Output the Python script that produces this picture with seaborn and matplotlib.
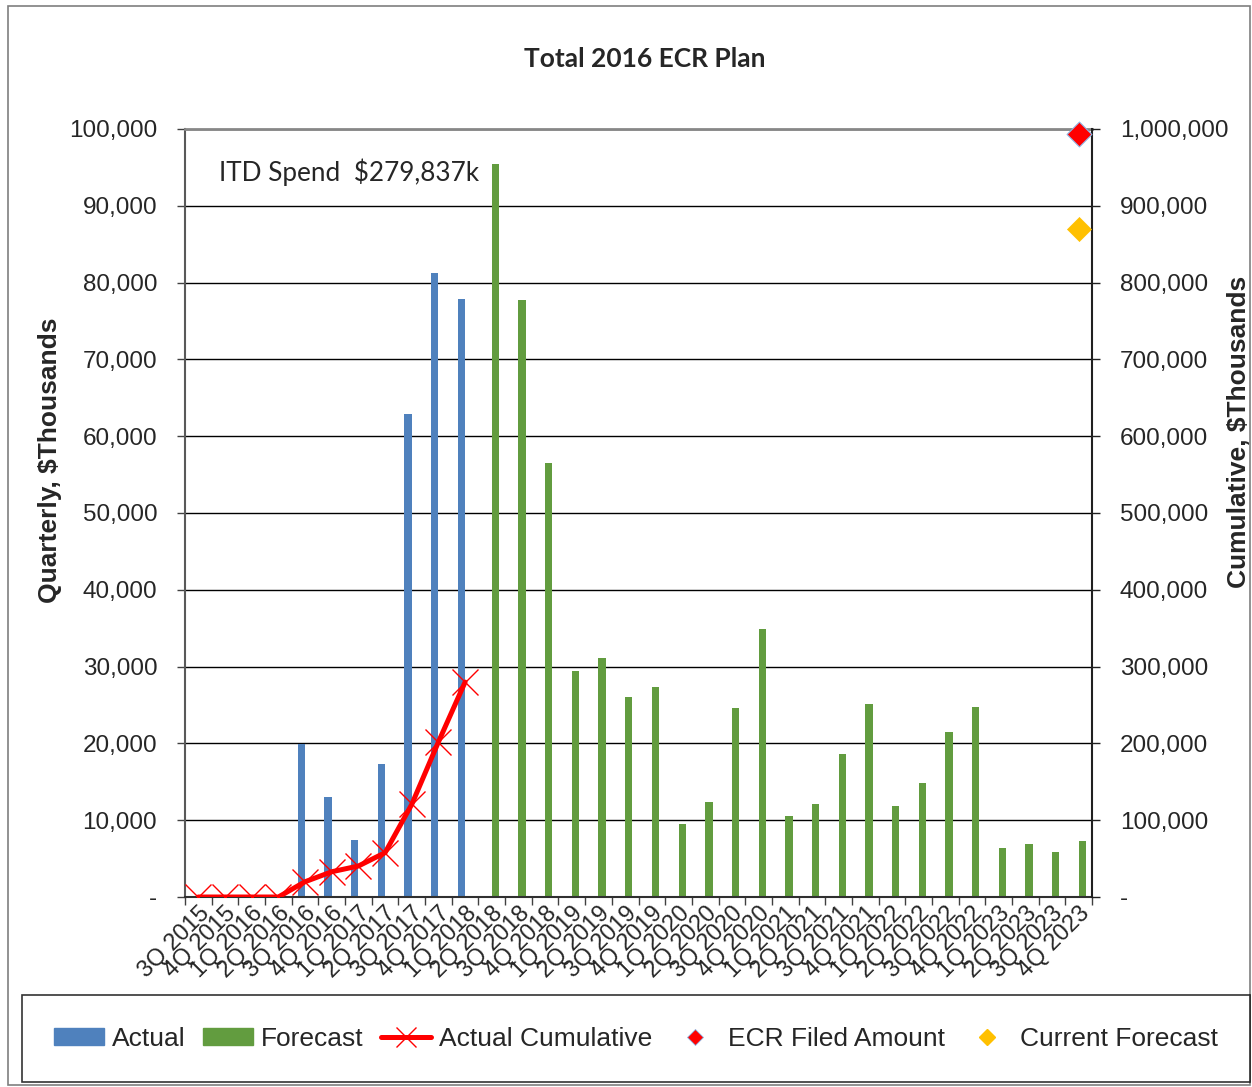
import numpy as np
import pandas as pd
import matplotlib
matplotlib.use("Agg")
import matplotlib.pyplot as plt
import seaborn as sns
from matplotlib.ticker import FuncFormatter, FixedLocator, MultipleLocator
from matplotlib.patches import Patch, Rectangle
from matplotlib.lines import Line2D

# ---------------- data ----------------
quarters = ["3Q 2015", "4Q 2015",
            "1Q 2016", "2Q 2016", "3Q 2016", "4Q 2016",
            "1Q 2017", "2Q 2017", "3Q 2017", "4Q 2017",
            "1Q 2018", "2Q 2018", "3Q 2018", "4Q 2018",
            "1Q 2019", "2Q 2019", "3Q 2019", "4Q 2019",
            "1Q 2020", "2Q 2020", "3Q 2020", "4Q 2020",
            "1Q 2021", "2Q 2021", "3Q 2021", "4Q 2021",
            "1Q 2022", "2Q 2022", "3Q 2022", "4Q 2022",
            "1Q 2023", "2Q 2023", "3Q 2023", "4Q 2023"]

nan = np.nan
actual = [0, 0, 0, 0, 19870, 13000, 7480, 17350, 62900, 81300, 77900] + [nan] * 23
forecast = [nan] * 11 + [95500, 77700, 56450,
                         29400, 31100, 26100, 27400,
                         9500, 12400, 24600, 34900,
                         10500, 12100, 18650, 25100,
                         11800, 14800, 21500, 24700,
                         6400, 6900, 5800, 7300]
actual_cumulative = [0, 0, 0, 0, 19870, 32870, 40350, 57700, 120600, 201900, 279837]
ecr_filed_amount = 993000
current_forecast = 870400
itd_text = "ITD Spend  $279,837k"

# ---------------- style ----------------
sns.set_theme(style="white")
plt.rcParams["font.family"] = ["Liberation Sans", "DejaVu Sans"]

blue = "#4F81BD"
green = "#629C3F"
red = "#FF0000"
gold = "#FFC000"

W, H = 1252, 1087
fig = plt.figure(figsize=(W / 100, H / 100), dpi=100)
L, R, T, B = 185, 1092, 129, 897
ax = fig.add_axes([L / W, 1 - B / H, (R - L) / W, (B - T) / H])

df = pd.DataFrame({
    "quarter": quarters * 2,
    "series": ["Actual"] * len(quarters) + ["Forecast"] * len(quarters),
    "value": actual + forecast,
})

sns.barplot(data=df, x="quarter", y="value", hue="series", order=quarters,
            hue_order=["Actual", "Forecast"], palette=[blue, green],
            width=0.55, dodge=True, saturation=1, errorbar=None,
            linewidth=0, legend=False, ax=ax)

ax.set_ylim(0, 100000)
ax.set_xlim(-0.5, len(quarters) - 0.5)
ax.yaxis.set_major_locator(MultipleLocator(10000))
fmt = FuncFormatter(lambda v, _: "-" if v == 0 else f"{v:,.0f}")
ax.yaxis.set_major_formatter(fmt)
ax.yaxis.grid(True, color="black", lw=1)
ax.set_axisbelow(True)
ax.set_xlabel("")
ax.set_ylabel("Quarterly, $Thousands", fontsize=19, fontweight="bold")
ax.yaxis.set_label_coords(-0.149, 0.569)
ax.yaxis.label.set_verticalalignment("center")

ax.set_xticks(range(len(quarters)))
ax.set_xticklabels(quarters)
ax.xaxis.set_minor_locator(FixedLocator(np.arange(-0.5, len(quarters), 1)))
ax.tick_params(axis="x", which="major", length=0, pad=4, labelsize=17)
ax.tick_params(axis="x", which="minor", length=6, width=1, color="#404040", bottom=True, direction="out")
for lab in ax.get_xticklabels():
    lab.set_rotation(45)
    lab.set_ha("right")
    lab.set_va("top")
    lab.set_rotation_mode("anchor")
ax.tick_params(axis="y", which="major", length=6, width=1, color="#404040", left=True,
               direction="out", pad=14, labelsize=17.5)

ax.spines["top"].set_color("#878787")
ax.spines["top"].set_linewidth(2)
ax.spines["left"].set_color("#595959")
ax.spines["left"].set_linewidth(1.5)
ax.spines["bottom"].set_color("#303030")
ax.spines["bottom"].set_linewidth(1.5)
ax.spines["right"].set_visible(False)

# secondary axis
ax2 = ax.twinx()
sns.lineplot(x=np.arange(len(actual_cumulative)), y=actual_cumulative, ax=ax2,
             color=red, lw=3.6, marker="x", markersize=19, markeredgewidth=1,
             markeredgecolor=red, zorder=5)
sns.scatterplot(x=[len(quarters) - 1], y=[current_forecast], marker="D", s=150,
                color=gold, edgecolor=gold, linewidth=0.5, ax=ax2, clip_on=False, zorder=6)
sns.scatterplot(x=[len(quarters) - 1], y=[ecr_filed_amount], marker="D", s=160,
                color=red, edgecolor="#8EB4E3", linewidth=0.8, ax=ax2, clip_on=False, zorder=6)
ax2.set_ylim(0, 1000000)
ax2.set_xlim(-0.5, len(quarters) - 0.5)
ax2.yaxis.set_major_locator(MultipleLocator(100000))
ax2.yaxis.set_major_formatter(fmt)
ax2.tick_params(axis="y", which="major", length=6, width=1, color="#202020", right=True,
                direction="out", pad=14, labelsize=17.5)
ax2.set_ylabel("Cumulative, $Thousands", fontsize=19, fontweight="bold")
ax2.yaxis.set_label_coords(1.162, 0.605)
ax2.yaxis.label.set_verticalalignment("center")
for side in ["top", "left", "bottom"]:
    ax2.spines[side].set_visible(False)
ax2.spines["right"].set_color("#202020")
ax2.spines["right"].set_linewidth(1.5)
ax2.set_xlabel("")

ax.text((219 - L) / (R - L), (B - 172) / (B - T), itd_text, transform=ax.transAxes,
        ha="left", va="center", fontsize=18.8, family=["Lato", "DejaVu Sans"])

fig.text(645 / W, 1 - 59 / H, "Total 2016 ECR Plan", ha="center", va="center",
         fontsize=19, fontweight="bold", family=["Lato", "DejaVu Sans"])

# outer frame
fig.patches.append(Rectangle((8 / W, 2 / H), (1250 - 8) / W, (1079) / H, transform=fig.transFigure,
                             fill=False, edgecolor="#7F7F7F", lw=1.2))

handles = [
    Patch(facecolor=blue, edgecolor=blue),
    Patch(facecolor=green, edgecolor=green),
    Line2D([], [], color=red, lw=3.6, marker="x", markersize=14, markeredgewidth=1),
    Line2D([], [], color=red, lw=0, marker="D", markersize=8, markeredgecolor="#8EB4E3", markeredgewidth=0.6),
    Line2D([], [], color=gold, lw=0, marker="D", markersize=8),
]
labels = ["Actual", "Forecast", "Actual Cumulative", "ECR Filed Amount", "Current Forecast"]
leg = fig.legend(handles, labels, loc="center",
                 bbox_to_anchor=(22 / W, (H - 1082) / H, 1228 / W, 87 / H),
                 ncol=5, mode="expand", frameon=True, fancybox=False, edgecolor="black",
                 fontsize=19, handlelength=1.9, handleheight=0.6, handletextpad=0.3,
                 columnspacing=0.8, borderpad=1.2, borderaxespad=0)
leg.get_frame().set_linewidth(1.2)

fig.savefig("out.png", dpi=100)
